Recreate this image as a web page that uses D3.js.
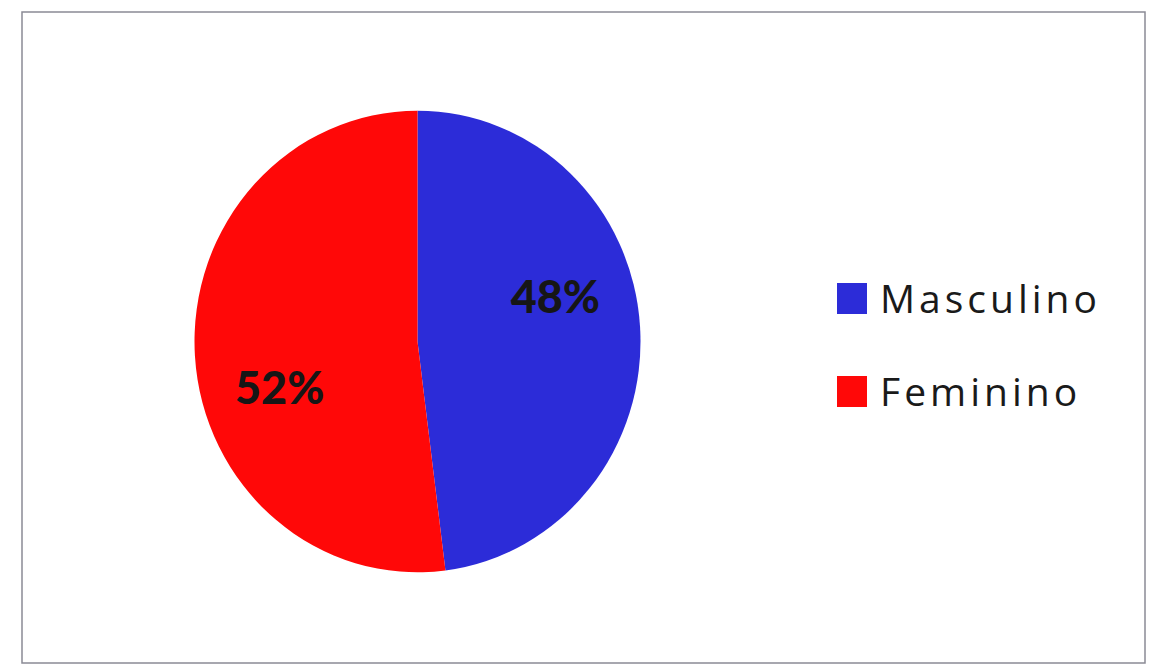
<!DOCTYPE html>
<html><head><meta charset="utf-8">
<script src="https://cdn.jsdelivr.net/npm/d3@7"></script>
<style>body{margin:0;background:#fff}svg{display:block}</style>
</head><body>
<svg id="c" width="1156" height="665"></svg>
<script>
const categories = ["Masculino", "Feminino"];
const values = [48, 52];
const colors = ["#2c2cd8", "#ff0808"];

const svg = d3.select("#c");
svg.append("rect").attr("x", 22).attr("y", 12).attr("width", 1123).attr("height", 651)
  .attr("fill", "#fff").attr("stroke", "#8a8a95").attr("stroke-width", 1.5);

const cx = 417.5, cy = 341.5, r = 223;
const g = svg.append("g").attr("transform", `translate(${cx},${cy}) scale(1,1.035)`);
const pie = d3.pie().sort(null).value(d => d)(values);
const arc = d3.arc().innerRadius(0).outerRadius(r);
g.selectAll("path").data(pie).join("path")
  .attr("d", arc).attr("fill", (d, i) => colors[i]);

const total = d3.sum(values);
const lr = r * 0.645, rot = -13 * Math.PI / 180;
svg.append("g").attr("transform", `translate(${cx},${cy})`)
  .selectAll("text").data(pie).join("text")
  .attr("x", d => lr * Math.sin((d.startAngle + d.endAngle) / 2 + rot))
  .attr("y", d => -lr * Math.cos((d.startAngle + d.endAngle) / 2 + rot) * 1.1)
  .attr("text-anchor", "middle").attr("dominant-baseline", "central")
  .attr("font-family", "Lato, 'Open Sans', sans-serif").attr("font-weight", "900")
  .attr("font-size", 45).attr("fill", "#161616")
  .text(d => Math.round(d.data / total * 100) + "%");

const leg = svg.append("g").attr("transform", "translate(837,0)");
const ly = [298, 391];
categories.forEach((c, i) => {
  leg.append("rect").attr("x", 0).attr("y", ly[i] - 15).attr("width", 30).attr("height", 31)
    .attr("fill", colors[i]);
  leg.append("text").attr("x", 43).attr("y", ly[i] + 15)
    .attr("font-family", "'Open Sans', sans-serif").attr("font-size", 39)
    .attr("letter-spacing", 4).attr("fill", "#1a1a1a").text(c);
});
</script>
</body></html>
